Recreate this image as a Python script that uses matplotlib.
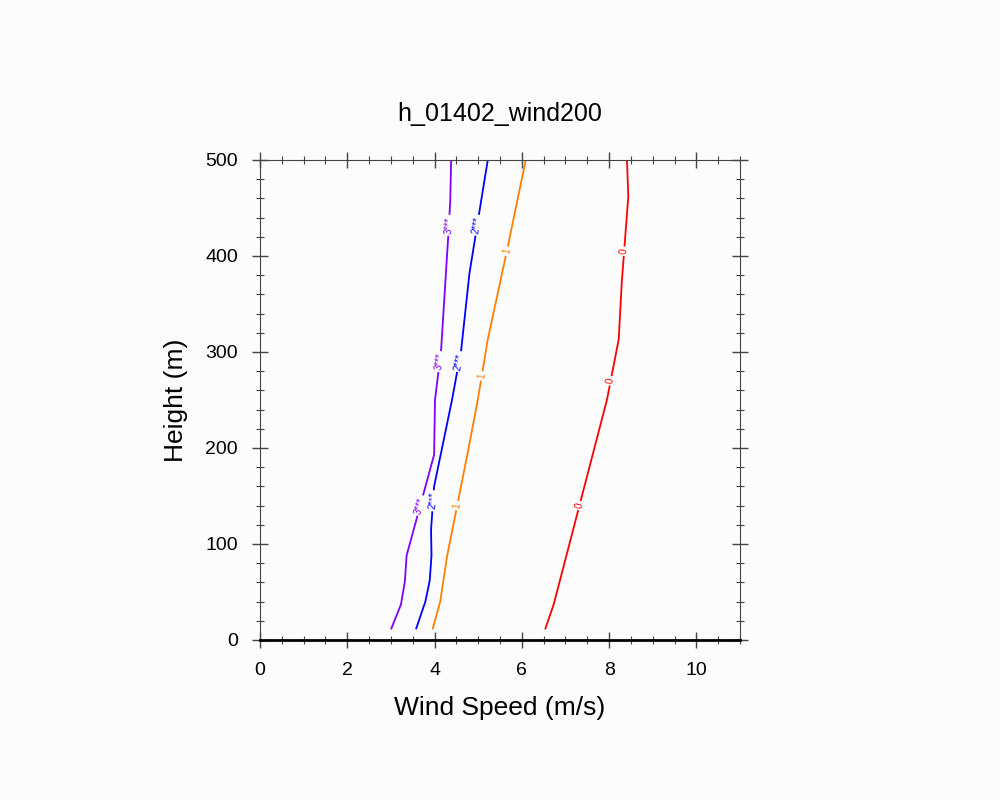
import matplotlib
matplotlib.use("Agg")
import matplotlib.pyplot as plt
import numpy as np
from matplotlib.ticker import MultipleLocator

plt.rcParams["font.family"] = "Liberation Sans"

purple_h = [12, 37, 61, 88, 193, 250, 302, 425, 458, 500]
purple_v = [3.01, 3.23, 3.32, 3.36, 3.99, 4.01, 4.15, 4.32, 4.36, 4.38]
blue_h = [12, 40, 62, 88, 115, 160, 250, 302, 382, 458, 500]
blue_v = [3.58, 3.79, 3.89, 3.93, 3.92, 3.99, 4.40, 4.61, 4.80, 5.07, 5.22]
orange_h = [12, 40, 88, 195, 250, 313, 410, 500]
orange_v = [3.96, 4.13, 4.29, 4.76, 4.99, 5.22, 5.68, 6.09]
red_h = [12, 37, 250, 313, 372, 462, 500]
red_v = [6.54, 6.73, 7.95, 8.22, 8.29, 8.44, 8.41]

series = [
    (red_v, red_h, "#ff0000", "0", [140, 270, 405]),
    (orange_v, orange_h, "#ff8000", "1", [140, 275, 405]),
    (blue_v, blue_h, "#0000ff", "2***", [145, 290, 432]),
    (purple_v, purple_h, "#8000ff", "3***", [140, 290, 432]),
]

bg = "#fcfcfc"
fig = plt.figure(figsize=(10, 8), dpi=100, facecolor=bg)
ax = fig.add_axes([0.26, 0.2, 0.48, 0.6], facecolor=bg)
ax.set_xlim(0, 11)
ax.set_ylim(0, 500)
fig.canvas.draw()

for v, h, c, lab, lh in series:
    ax.plot(v, h, color=c, lw=1.3)
    for yy in lh:
        xx = np.interp(yy, h, v)
        p1 = ax.transData.transform((np.interp(yy - 10, h, v), yy - 10))
        p2 = ax.transData.transform((np.interp(yy + 10, h, v), yy + 10))
        ang = np.degrees(np.arctan2(p2[1] - p1[1], p2[0] - p1[0]))
        ax.text(xx, yy, lab, color=c, fontsize=7, rotation=ang,
                rotation_mode="anchor", ha="center", va="center",
                bbox=dict(facecolor=bg, edgecolor="none", pad=1.5), zorder=5)

ax.xaxis.set_major_locator(MultipleLocator(2))
ax.xaxis.set_minor_locator(MultipleLocator(0.5))
ax.yaxis.set_major_locator(MultipleLocator(100))
ax.yaxis.set_minor_locator(MultipleLocator(20))
ax.tick_params(which="both", direction="inout", top=True, right=True,
               labelsize=14, color="#444444")
ax.tick_params(which="major", length=12, width=1, pad=10)
ax.tick_params(which="minor", length=6, width=0.8)
for s in ["top", "left", "right"]:
    ax.spines[s].set_color("#444444")
ax.spines["bottom"].set_linewidth(2)
ax.spines["bottom"].set_color("black")

ax.set_xlabel("Wind Speed (m/s)", fontsize=19, labelpad=12)
ax.set_ylabel("Height (m)", fontsize=19, labelpad=12)
ax.set_title("h_01402_wind200", fontsize=18, pad=28)
fig.savefig("out.png", dpi=100, facecolor=bg)
